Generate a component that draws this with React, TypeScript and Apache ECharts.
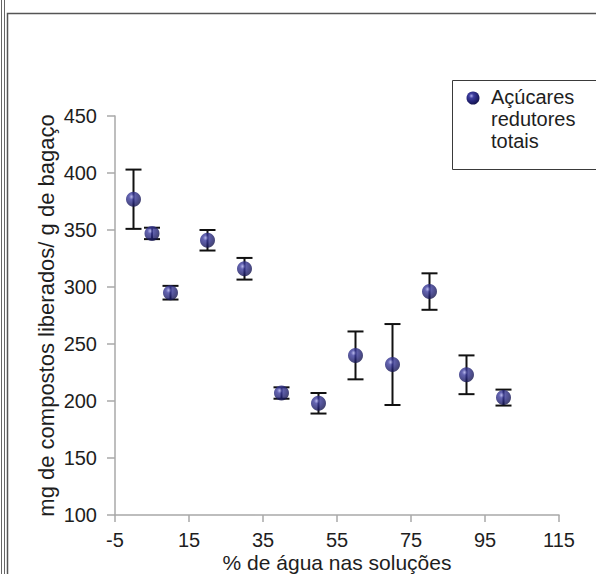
import React, { useEffect, useRef } from "react";
import * as echarts from "echarts";

// Water content of the solutions (%)
const waterPercent = [0, 5, 10, 20, 30, 40, 50, 60, 70, 80, 90, 100];
// Total reducing sugars released (mg / g bagasse)
const sugarMeans = [377, 347, 295, 341, 316, 207, 198, 240, 232, 296, 223, 203];
// Half-width of the error bars (mg / g bagasse)
const sugarErrors = [26, 5, 6, 9, 9.5, 5, 9, 21, 35.5, 16, 17, 7];

const xTickStart = -5;
const xTickEnd = 115;
const xTickStep = 20;
const yTickStart = 100;
const yTickEnd = 450;
const yTickStep = 50;

const seriesName = "Açúcares redutores totais";
const legendLines = ["Açúcares", "redutores", "totais"];
const xTitle = "% de água nas soluções";
const yTitle = "mg de compostos liberados/ g de bagaço";

const WIDTH = 596;
const HEIGHT = 574;
const FONT = "'Liberation Sans', Arial, Helvetica, sans-serif";
const TEXT_COLOR = "#1e1e1e";
const AXIS_COLOR = "#a8a8a8";

const sphere = () => ({
  type: "radial",
  x: 0.38,
  y: 0.34,
  r: 0.72,
  colorStops: [
    { offset: 0, color: "#a8a8ea" },
    { offset: 0.25, color: "#3d3d9e" },
    { offset: 0.65, color: "#222272" },
    { offset: 1, color: "#111145" },
  ],
});

export default function App() {
  const ref = useRef<HTMLDivElement>(null);

  useEffect(() => {
    if (!ref.current) return;
    document.body.style.margin = "0";
    const chart = echarts.init(ref.current, undefined, {
      renderer: "svg",
      width: WIDTH,
      height: HEIGHT,
    });

    const points = waterPercent.map((x, i) => [x, sugarMeans[i]]);
    const bars = waterPercent.map((x, i) => [
      x,
      sugarMeans[i] - sugarErrors[i],
      sugarMeans[i] + sugarErrors[i],
    ]);

    const option: any = {
      animation: false,
      backgroundColor: "#ffffff",
      textStyle: { fontFamily: FONT },
      grid: {
        left: 115,
        right: 37,
        top: 116,
        bottom: 59,
        containLabel: false,
        outerBoundsMode: "none",
      },
      xAxis: {
        type: "value",
        min: xTickStart,
        max: xTickEnd,
        interval: xTickStep,
        name: xTitle,
        nameLocation: "middle",
        nameGap: 37,
        nameMoveOverlap: false,
        nameTextStyle: { fontSize: 21, lineHeight: 21, color: TEXT_COLOR, fontFamily: FONT },
        axisLine: { show: true, onZero: false, lineStyle: { color: AXIS_COLOR, width: 1.5 } },
        axisTick: { show: true, length: 7, lineStyle: { color: AXIS_COLOR, width: 1.5 } },
        axisLabel: { fontSize: 20, lineHeight: 20, color: TEXT_COLOR, margin: 15, fontFamily: FONT },
        splitLine: { show: false },
      },
      yAxis: {
        type: "value",
        min: yTickStart,
        max: yTickEnd,
        interval: yTickStep,
        name: yTitle,
        nameLocation: "middle",
        nameRotate: 90,
        nameGap: 58,
        nameMoveOverlap: false,
        nameTextStyle: { fontSize: 22, color: TEXT_COLOR, fontFamily: FONT },
        axisLine: { show: true, onZero: false, lineStyle: { color: AXIS_COLOR, width: 1.5 } },
        axisTick: { show: true, length: 8, lineStyle: { color: AXIS_COLOR, width: 1.5 } },
        axisLabel: { fontSize: 20, color: TEXT_COLOR, margin: 18, fontFamily: FONT },
        splitLine: { show: false },
      },
      series: [
        {
          type: "custom",
          name: "erro",
          z: 2,
          data: bars,
          encode: { x: 0, y: [1, 2] },
          renderItem: (_params: any, api: any) => {
            const x = api.value(0);
            const lo = api.coord([x, api.value(1)]);
            const hi = api.coord([x, api.value(2)]);
            const half = 8;
            const style = { stroke: "#111111", lineWidth: 2 };
            return {
              type: "group",
              children: [
                { type: "line", shape: { x1: hi[0], y1: hi[1], x2: lo[0], y2: lo[1] }, style },
                { type: "line", shape: { x1: hi[0] - half, y1: hi[1], x2: hi[0] + half, y2: hi[1] }, style },
                { type: "line", shape: { x1: lo[0] - half, y1: lo[1], x2: lo[0] + half, y2: lo[1] }, style },
              ],
            };
          },
        },
        {
          type: "scatter",
          name: seriesName,
          z: 3,
          symbol: "circle",
          symbolSize: 15,
          data: points,
          itemStyle: { color: sphere() as any },
        },
      ],
      graphic: [
        // outer frame lines
        { type: "line", shape: { x1: 1.5, y1: 0, x2: 1.5, y2: HEIGHT }, style: { stroke: "#666", lineWidth: 1 } },
        { type: "line", shape: { x1: 4.5, y1: 0, x2: 4.5, y2: HEIGHT }, style: { stroke: "#666", lineWidth: 1 } },
        {
          type: "polyline",
          shape: { points: [[7.5, HEIGHT], [7.5, 13.5], [WIDTH, 13.5]] },
          style: { stroke: "#555", lineWidth: 1.5, fill: null },
        },
        // legend box
        {
          type: "rect",
          shape: { x: 452.5, y: 80.5, width: 160, height: 89 },
          style: { fill: "#ffffff", stroke: "#3a3a3a", lineWidth: 1 },
          z: 10,
        },
        {
          type: "circle",
          shape: { cx: 473, cy: 98, r: 6.5 },
          style: { fill: sphere() as any },
          z: 11,
        },
        {
          type: "text",
          x: 491,
          y: 86,
          z: 11,
          style: {
            text: legendLines.join("\n"),
            font: `20px ${FONT}`,
            fill: TEXT_COLOR,
            lineHeight: 22,
            verticalAlign: "top",
          },
        },
      ],
    };

    chart.setOption(option);
    return () => chart.dispose();
  }, []);

  return (
    <div
      ref={ref}
      style={{ position: "absolute", left: 0, top: 0, width: WIDTH, height: HEIGHT }}
    />
  );
}
